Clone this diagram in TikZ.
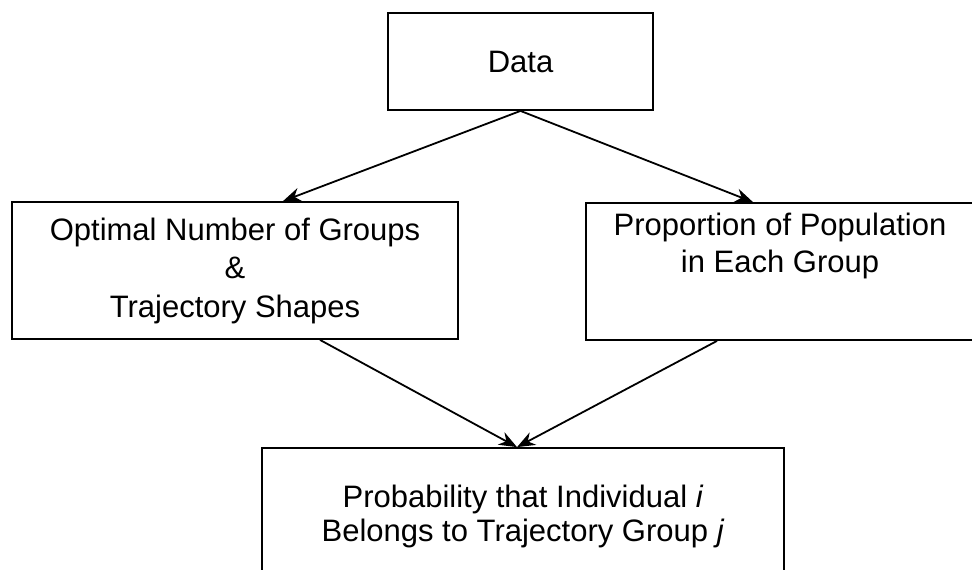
\documentclass[tikz,border=0pt]{standalone}
\usepackage{fontspec}
\setmainfont{Liberation Sans}
\usetikzlibrary{arrows.meta,positioning}

\begin{document}
\begin{tikzpicture}[x=0.5pt,y=-0.5pt,
  font=\fontsize{15.5pt}{19.25pt}\selectfont,
  box/.style={draw,line width=0.9pt,inner sep=0pt,align=center},
  txt/.style={inner sep=0pt,align=center},
  arr/.style={-{Stealth[length=9pt,width=7pt]},line width=0.9pt}]
  \useasboundingbox (0,0) rectangle (972,569);
  \clip (0,0) rectangle (972,569);
  \node[box,minimum width=132.5pt,minimum height=48.5pt] (data) at (520.5,61.5) {Data};
  \node[box,minimum width=223pt,minimum height=68.5pt] (groups) at (235,270.5)
    {Optimal Number of Groups\\\&\\Trajectory Shapes};
  \node[box,minimum width=194pt,minimum height=68.5pt] (share) at (780,271.5) {};
  \node[txt,below=5.5pt of share.north,font=\fontsize{15.5pt}{18.5pt}\selectfont] (shareText)
    {Proportion of Population\\in Each Group};
  \node[box,minimum width=261pt,minimum height=86pt] (prob) at (523,534) {};
  \node[txt,below=19pt of prob.north,font=\fontsize{15.5pt}{17pt}\selectfont] (probText)
    {Probability that Individual \textit{i}\\Belongs to Trajectory Group \textit{j}};
  \draw[arr] (data.south) -- ([xshift=24pt]groups.north);
  \draw[arr] (data.south) -- ([xshift=-13.5pt]share.north);
  \draw[arr] ([xshift=42.5pt]groups.south) -- ([xshift=-3pt]prob.north);
  \draw[arr] ([xshift=-31.5pt]share.south) -- ([xshift=-3pt]prob.north);
\end{tikzpicture}
\end{document}
